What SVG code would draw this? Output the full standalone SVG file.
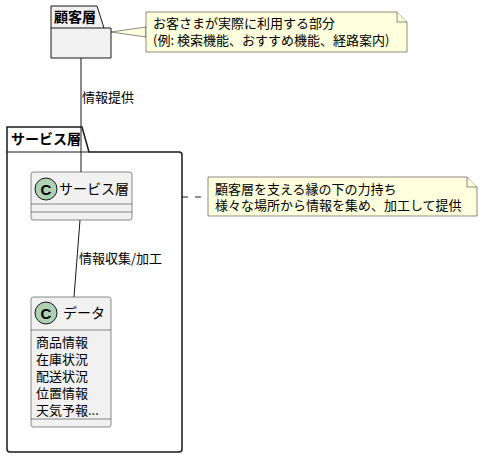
<svg xmlns="http://www.w3.org/2000/svg" width="482" height="457" viewBox="0 0 482 457">
<style>
text{font-family:"Noto Sans CJK JP","Noto Sans",sans-serif;fill:#000}
.pkg{fill:#F1F1F1;stroke:#181818;stroke-width:1}
.pkgw{fill:#FFFFFF;stroke:#181818;stroke-width:1.5}
.note{fill:#FEFFDD;stroke:#181818;stroke-width:0.5}
.cls{fill:#F1F1F1;stroke:#181818;stroke-width:0.5}
.circ{fill:#ADD1B2;stroke:#181818;stroke-width:1}
.lbl{font-size:13px}
.name{font-size:14px}
.pkgt{font-size:14px;font-weight:bold}
.ln{stroke:#181818;stroke-width:1;fill:none}
</style>
<g id="pkg-kokyaku">
<path class="pkg" d="M51,6 L97,6 L104,28 L111,28 L111,58 L51,58 Z"/>
<line class="ln" x1="51" y1="28" x2="104" y2="28"/>
<text class="pkgt" x="54" y="22">顧客層</text>
</g>
<g id="pkg-service">
<path class="pkgw" d="M7,127 L82,127 L89,152 L179,152 Q182,152 182,155 L182,449 Q182,452 179,452 L10,452 Q7,452 7,449 Z"/>
<line class="ln" x1="7" y1="152" x2="89" y2="152" stroke-width="1.5"/>
<text class="pkgt" x="11" y="144">サービス層</text>
</g>
<g id="note1">
<path class="note" d="M111,32 L146,27 L146,37 Z"/>
<path class="note" d="M146,12 L397,12 L407,22 L407,52 L146,52 Z"/>
<path class="note" d="M397,12 L397,22 L407,22" fill="none"/>
<text class="lbl"><tspan x="153" y="28">お客さまが実際に利用する部分</tspan><tspan x="153" y="45">(例: 検索機能、おすすめ機能、経路案内)</tspan></text>
</g>
<g id="cls-service">
<rect class="cls" x="31" y="172" width="101" height="48" rx="2.5"/>
<line class="cls" x1="31" y1="204" x2="132" y2="204"/>
<line class="cls" x1="31" y1="212" x2="132" y2="212"/>
<circle class="circ" cx="46" cy="189" r="11"/>
<text x="46" y="194.5" text-anchor="middle" style="font-family:'Liberation Sans',sans-serif;font-size:15px;font-weight:bold">C</text>
<text class="name" x="59" y="194">サービス層</text>
</g>
<g id="cls-data">
<rect class="cls" x="31" y="297" width="80" height="130" rx="2.5"/>
<line class="cls" x1="31" y1="330" x2="111" y2="330"/>
<line class="cls" x1="31" y1="419" x2="111" y2="419"/>
<circle class="circ" cx="46" cy="313" r="11"/>
<text x="46" y="318.5" text-anchor="middle" style="font-family:'Liberation Sans',sans-serif;font-size:15px;font-weight:bold">C</text>
<text class="name" x="63" y="318">データ</text>
<text class="lbl"><tspan x="36" y="347">商品情報</tspan><tspan x="36" y="364">在庫状況</tspan><tspan x="36" y="381">配送状況</tspan><tspan x="36" y="398">位置情報</tspan><tspan x="36" y="415">天気予報...</tspan></text>
</g>
<g id="note2">
<path class="note" d="M208,177 L467,177 L477,187 L477,216 L208,216 Z"/>
<path class="note" d="M467,177 L467,187 L477,187" fill="none"/>
<text class="lbl"><tspan x="215" y="194">顧客層を支える縁の下の力持ち</tspan><tspan x="215" y="210">様々な場所から情報を集め、加工して提供</tspan></text>
</g>
<g id="connectors">
<line class="ln" x1="81" y1="58" x2="81" y2="172"/>
<text class="lbl" x="82" y="102">情報提供</text>
<line class="ln" x1="80" y1="220" x2="74" y2="297"/>
<text class="lbl" x="79" y="263">情報収集/加工</text>
<line class="ln" x1="182" y1="197" x2="208" y2="197" stroke-dasharray="6,7"/>
</g>
</svg>
